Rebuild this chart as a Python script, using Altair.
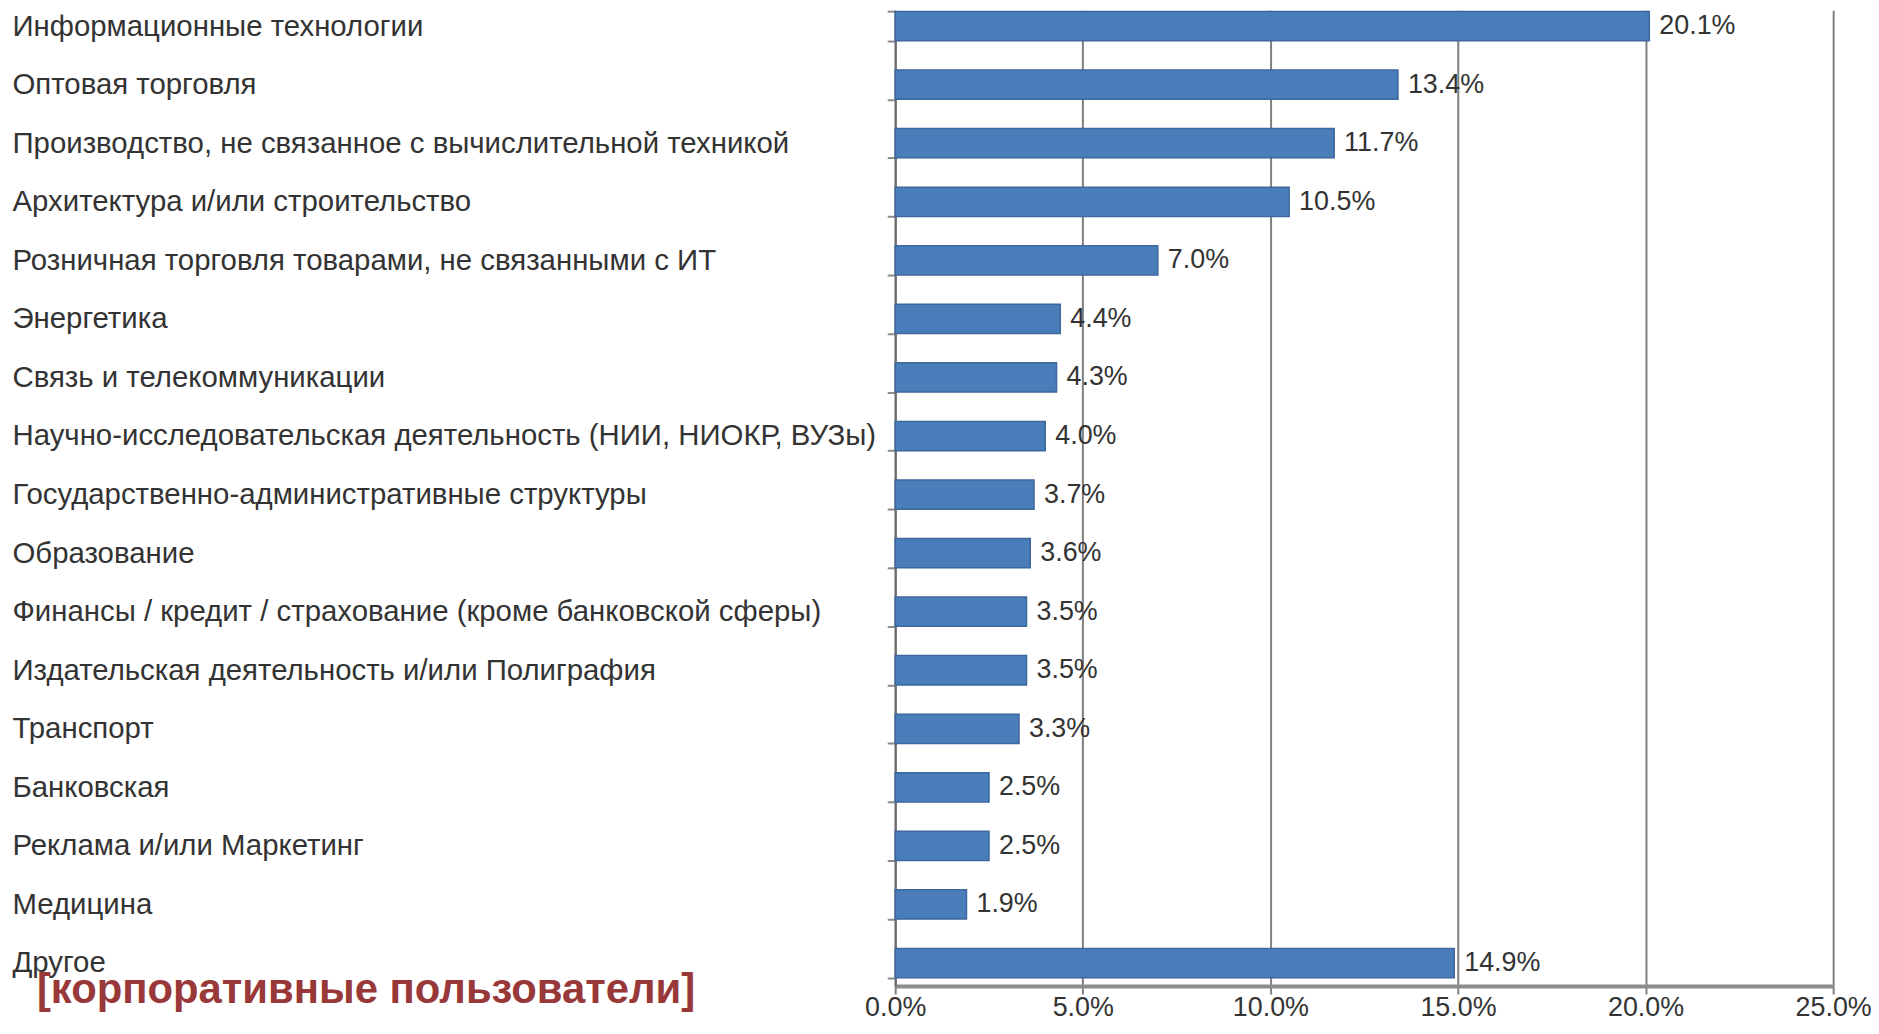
import altair as alt
import pandas as pd

categories = [
    "Информационные технологии",
    "Оптовая торговля",
    "Производство, не связанное с вычислительной техникой",
    "Архитектура и/или строительство",
    "Розничная торговля товарами, не связанными с ИТ",
    "Энергетика",
    "Связь и телекоммуникации",
    "Научно-исследовательская деятельность (НИИ, НИОКР, ВУЗы)",
    "Государственно-административные структуры",
    "Образование",
    "Финансы / кредит / страхование (кроме банковской сферы)",
    "Издательская деятельность и/или Полиграфия",
    "Транспорт",
    "Банковская",
    "Реклама и/или Маркетинг",
    "Медицина",
    "Другое",
]
values = [20.1, 13.4, 11.7, 10.5, 7.0, 4.4, 4.3, 4.0, 3.7, 3.6, 3.5, 3.5, 3.3, 2.5, 2.5, 1.9, 14.9]
x_ticks = [0, 5, 10, 15, 20, 25]
note_text = ["[корпоративные пользователи]"]

df = pd.DataFrame({"category": categories, "value": values})
df["label"] = [f"{v:.1f}%" for v in values]
note_df = pd.DataFrame({"note": note_text})

FONT = "Liberation Sans"
TXT = "#333333"
W, H = 942, 980

y_enc = alt.Y(
    "category:N",
    sort=categories,
    scale=alt.Scale(paddingInner=0.5, paddingOuter=0.082, align=0.135),
    axis=alt.Axis(
        title=None,
        labelAlign="left",
        labelBaseline="middle",
        labelPadding=879,
        labelLimit=1000,
        labelFont=FONT,
        labelFontSize=29.5,
        labelColor=TXT,
        tickBand="extent",
        tickSize=8,
        tickColor="#8a8a8a",
        tickWidth=2,
        domainColor="#6a6a6a",
        domainWidth=2,
        grid=False,
    ),
)

x_enc = alt.X(
    "value:Q",
    scale=alt.Scale(domain=[0, 25], nice=False),
    axis=alt.Axis(
        title=None,
        values=x_ticks,
        labelExpr="format(datum.value, '.1f') + '%'",
        labelFont=FONT,
        labelFontSize=27,
        labelColor=TXT,
        labelPadding=1,
        labelFlush=False,
        tickSize=8,
        tickColor="#7f7f7f",
        tickWidth=2,
        domainColor="#8c8c8c",
        domainWidth=4,
        grid=True,
        gridColor="#7f7f7f",
        gridWidth=2,
    ),
)

bars = alt.Chart(df).mark_bar(
    color="#4a7ebb", stroke="#3d679d", strokeWidth=1.5
).encode(x=x_enc, y=y_enc)

labels = alt.Chart(df).mark_text(
    align="left", baseline="middle", dx=10, font=FONT, fontSize=27, color=TXT
).encode(
    x=alt.X("value:Q"),
    y=alt.Y("category:N", sort=categories),
    text="label:N",
)

note = alt.Chart(note_df).mark_text(
    align="left",
    baseline="alphabetic",
    font=FONT,
    fontSize=42,
    fontWeight="bold",
    color="#993838",
).encode(x=alt.value(-862), y=alt.value(997), text="note:N")

chart = (
    alt.layer(bars, labels, note)
    .properties(
        width=W,
        height=H,
        autosize=alt.AutoSizeParams(type="none"),
        padding={"left": 891, "top": 0, "right": 38, "bottom": 38},
        background="white",
    )
    .configure_view(stroke=None)
)

chart.save("out.html", embed_options={"renderer": "svg", "actions": False})
